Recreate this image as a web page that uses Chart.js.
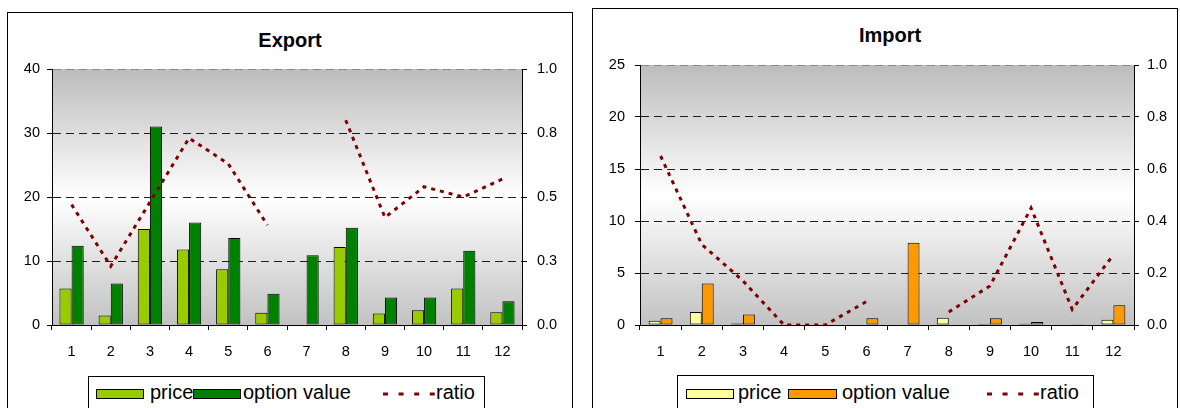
<!DOCTYPE html>
<html>
<head>
<meta charset="utf-8">
<script src="https://cdn.jsdelivr.net/npm/chart.js@4.4.1/dist/chart.umd.min.js"></script>
<style>
  html, body { margin: 0; padding: 0; background: #fff; width: 1180px; height: 408px; overflow: hidden;
    font-family: "Liberation Sans", Arial, sans-serif; position: relative; }
  .frame { position: absolute; border: 1px solid #000; box-sizing: border-box; background: #fff; }
  .title { position: absolute; font-weight: bold; font-size: 20px; line-height: 20px; text-align: center;
    white-space: nowrap; color: #000; }
  .legend { position: absolute; border: 1px solid #000; box-sizing: border-box; background: #fff; }
  .sw { position: absolute; height: 10px; border: 1px solid #000; box-sizing: border-box; }
  .lt { position: absolute; font-size: 20px; line-height: 20px; white-space: nowrap; color: #000; }
  canvas { position: absolute; }
  svg { position: absolute; overflow: visible; }
</style>
</head>
<body>

<!-- Export panel -->
<div class="frame" style="left:7px; top:12px; width:566px; height:420px;"></div>
<div class="title" style="left:190px; width:200px; top:30px;">Export</div>
<canvas id="exportChart" width="564" height="395" style="left:8px; top:13px;"></canvas>
<div class="legend" style="left:88px; top:376px; width:397px; height:60px;"></div>
<div class="sw" style="left:96px; top:389px; width:48px; background:#99cc00;"></div>
<div class="lt" style="left:150px; top:382px;">price</div>
<div class="sw" style="left:193px; top:389px; width:48px; background:#008000;"></div>
<div class="lt" style="left:243px; top:382px;">option value</div>
<svg style="left:383px; top:389px;" width="53" height="10"><line x1="0" y1="5" x2="53" y2="5" stroke="#800000" stroke-width="3" stroke-dasharray="5 10.6"/></svg>
<div class="lt" style="left:436px; top:382px;">ratio</div>

<!-- Import panel -->
<div class="frame" style="left:592px; top:8px; width:586px; height:420px;"></div>
<div class="title" style="left:790px; width:200px; top:25px;">Import</div>
<canvas id="importChart" width="587" height="399" style="left:593px; top:9px;"></canvas>
<div class="legend" style="left:677px; top:375px; width:417px; height:60px;"></div>
<div class="sw" style="left:686px; top:389px; width:48px; background:#ffff99;"></div>
<div class="lt" style="left:738px; top:382px;">price</div>
<div class="sw" style="left:788px; top:389px; width:49px; background:#ff9900;"></div>
<div class="lt" style="left:842px; top:382px;">option value</div>
<svg style="left:987px; top:389px;" width="53" height="10"><line x1="0" y1="5" x2="53" y2="5" stroke="#800000" stroke-width="3" stroke-dasharray="5 10.6"/></svg>
<div class="lt" style="left:1040px; top:382px;">ratio</div>

<script>
// Months on the category axis
const months = ['1', '2', '3', '4', '5', '6', '7', '8', '9', '10', '11', '12'];

// Export series
const exportPrice  = [5.7, 1.5, 15.0, 11.8, 8.7, 1.9, 0, 12.2, 1.8, 2.3, 5.7, 2.0];
const exportOption = [12.4, 6.5, 31.0, 16.0, 13.6, 4.9, 10.9, 15.2, 4.3, 4.3, 11.6, 3.7];
const exportRatio  = [0.47, 0.23, 0.48, 0.73, 0.63, 0.39, null, 0.80, 0.42, 0.54, 0.50, 0.57];

// Import series
const importPrice  = [0.4, 1.25, 0.15, 0, 0, 0, 0, 0.7, 0.1, 0.12, 0.05, 0.5];
const importOption = [0.65, 4.0, 1.0, 0, 0, 0.65, 7.9, 0, 0.65, 0.3, 0.08, 1.9];
const importRatio  = [0.65, 0.31, 0.17, 0, 0, 0.09, null, 0.05, 0.15, 0.45, 0.06, 0.27];

// Axis ranges: [min, max, step]
const exportValueAxis = [0, 40, 10];
const exportRatioAxis = [0, 1, 0.25];
const importValueAxis = [0, 25, 5];
const importRatioAxis = [0, 1, 0.2];

const FONT = '"Liberation Sans", Arial, sans-serif';

// Grey-white-grey fill behind the plot area
const plotBackground = {
  id: 'plotBackground',
  beforeDraw(chart) {
    const { ctx, chartArea: { left, top, right, bottom } } = chart;
    const g = ctx.createLinearGradient(0, top, 0, bottom);
    g.addColorStop(0, '#bcbcbc');
    g.addColorStop(0.5, '#ffffff');
    g.addColorStop(1, '#c2c2c2');
    ctx.save();
    ctx.fillStyle = g;
    ctx.fillRect(left, top, right - left, bottom - top);
    ctx.restore();
  }
};

function buildChart(id, o) {
  const tickFont = { family: FONT, size: 14.5 };
  return new Chart(document.getElementById(id), {
    type: 'bar',
    data: {
      labels: months,
      datasets: [
        { type: 'line', label: 'ratio', data: o.ratio, yAxisID: 'y1', order: 0,
          borderColor: '#800000', borderWidth: 3, borderDash: [4, 5], borderCapStyle: 'butt',
          pointRadius: 0, tension: 0, fill: false, spanGaps: false },
        { label: 'price', data: o.price, yAxisID: 'y', order: 1,
          backgroundColor: o.priceColor, borderColor: '#000', borderWidth: 1, borderSkipped: false,
          categoryPercentage: o.catPct, barPercentage: 1 },
        { label: 'option value', data: o.option, yAxisID: 'y', order: 1,
          backgroundColor: o.optionColor, borderColor: '#000', borderWidth: 1, borderSkipped: false,
          categoryPercentage: o.catPct, barPercentage: 1 }
      ]
    },
    options: {
      responsive: false,
      animation: false,
      devicePixelRatio: 1,
      layout: { padding: { top: o.padTop, left: 0, right: 0, bottom: 0 } },
      plugins: { legend: { display: false }, title: { display: false }, tooltip: { enabled: false } },
      scales: {
        x: {
          type: 'category',
          offset: true,
          grid: { display: true, drawOnChartArea: false, drawTicks: true, offset: true,
                  tickLength: 5, tickColor: '#000', tickWidth: 1 },
          border: { display: true, color: '#000', width: 1 },
          ticks: { color: '#000', font: tickFont, padding: 13, maxRotation: 0, autoSkip: false },
          afterFit: s => { s.height = o.xHeight; }
        },
        y: {
          position: 'left',
          min: o.valueAxis[0], max: o.valueAxis[1],
          grid: { display: true, drawOnChartArea: true, drawTicks: true, tickLength: 5,
                  tickColor: '#000', lineWidth: 1,
                  color: ctx => (ctx.index === ctx.scale.ticks.length - 1 ? '#8a8a8a' : '#1e1e1e') },
          border: { display: true, color: '#000', width: 1, dash: [8, 5] },
          ticks: { stepSize: o.valueAxis[2], color: '#000', font: tickFont, padding: o.leftPad },
          afterFit: s => { s.width = o.leftWidth; }
        },
        y1: {
          position: 'right',
          min: o.ratioAxis[0], max: o.ratioAxis[1],
          grid: { display: true, drawOnChartArea: false, drawTicks: true, tickLength: 5, tickColor: '#000' },
          border: { display: true, color: '#000', width: 1 },
          ticks: { stepSize: o.ratioAxis[2], color: '#000', font: tickFont, padding: o.rightPad,
                   callback: v => (Math.round(v * 10) / 10).toFixed(1) },
          afterFit: s => { s.width = o.rightWidth; }
        }
      }
    },
    plugins: [plotBackground]
  });
}

buildChart('exportChart', {
  price: exportPrice, option: exportOption, ratio: exportRatio,
  priceColor: '#99cc00', optionColor: '#008000', catPct: 0.62,
  valueAxis: exportValueAxis, ratioAxis: exportRatioAxis,
  padTop: 56, leftWidth: 44, rightWidth: 50, xHeight: 83, leftPad: 7, rightPad: 10
});

buildChart('importChart', {
  price: importPrice, option: importOption, ratio: importRatio,
  priceColor: '#ffff99', optionColor: '#ff9900', catPct: 0.58,
  valueAxis: importValueAxis, ratioAxis: importRatioAxis,
  padTop: 56, leftWidth: 47, rightWidth: 46, xHeight: 83, leftPad: 10, rightPad: 8
});
</script>
</body>
</html>
